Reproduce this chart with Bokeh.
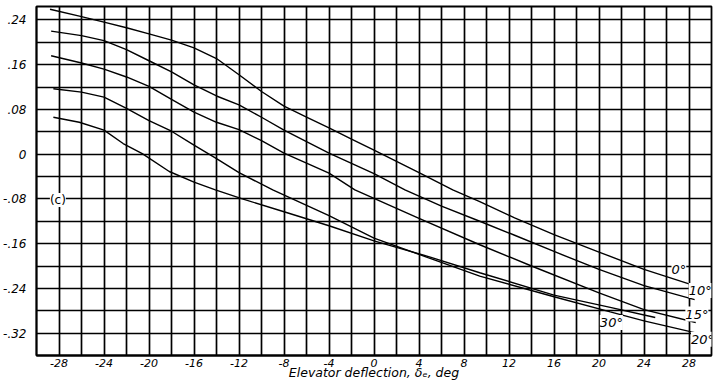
from bokeh.plotting import figure
from bokeh.models import FixedTicker, CustomJSTickFormatter, Range1d, Label
from bokeh.embed import file_html
from bokeh.resources import INLINE
from bokeh.core.properties import value

# ---- data ----
x_0 = [-28.8, -26.0, -24.0, -22.0, -20.0, -18.0, -16.0, -14.0, -12.0, -10.0, -8.0, -6.0, -4.0, -2.0, 0.0, 4.0, 7.0, 9.4, 12.5, 16.0, 20.0, 24.0, 28.0]
y_0 = [0.259, 0.246, 0.236, 0.226, 0.215, 0.204, 0.190, 0.171, 0.142, 0.112, 0.086, 0.066, 0.047, 0.027, 0.007, -0.033, -0.064, -0.085, -0.114, -0.144, -0.175, -0.206, -0.232]

x_10 = [-28.7, -26.0, -24.0, -22.0, -20.0, -18.0, -16.0, -14.0, -12.0, -10.0, -8.0, -4.0, 0.0, 2.75, 6.0, 9.4, 12.5, 16.0, 20.0, 24.0, 28.5]
y_10 = [0.220, 0.212, 0.203, 0.187, 0.167, 0.147, 0.124, 0.104, 0.088, 0.066, 0.043, 0.002, -0.035, -0.064, -0.093, -0.120, -0.145, -0.174, -0.206, -0.235, -0.260]

x_15 = [-28.7, -26.0, -24.0, -22.0, -20.0, -18.0, -16.0, -14.0, -12.0, -10.0, -8.0, -4.0, -1.7, 4.0, 9.4, 14.0, 20.0, 24.0, 28.6]
y_15 = [0.176, 0.163, 0.152, 0.138, 0.121, 0.098, 0.075, 0.057, 0.044, 0.024, 0.002, -0.034, -0.064, -0.115, -0.162, -0.200, -0.248, -0.278, -0.301]

x_20 = [-28.5, -26.0, -24.0, -22.0, -20.0, -18.0, -16.0, -14.0, -12.0, -9.0, -4.0, 0.0, 4.8, 9.4, 16.0, 21.0, 24.0, 28.5]
y_20 = [0.117, 0.111, 0.102, 0.082, 0.060, 0.041, 0.016, -0.008, -0.033, -0.064, -0.110, -0.150, -0.185, -0.218, -0.255, -0.282, -0.298, -0.319]

x_30 = [-28.5, -26.2, -24.0, -22.3, -20.6, -18.2, -16.0, -14.1, -11.7, -8.0, -4.0, 0.0, 5.0, 9.4, 16.0, 21.0, 25.0]
y_30 = [0.066, 0.057, 0.043, 0.019, 0.001, -0.031, -0.050, -0.064, -0.080, -0.103, -0.128, -0.155, -0.184, -0.212, -0.252, -0.274, -0.292]

curve_labels = ["0°", "10°", "15°", "20°", "30°"]
label_x = [27.1, 29.0, 28.7, 29.2, 21.1]
label_y = [-0.206, -0.244, -0.286, -0.331, -0.301]

x_ticks = [-28, -24, -20, -16, -12, -8, -4, 0, 4, 8, 12, 16, 20, 24, 28]
x_grid = list(range(-30, 31, 2))
y_ticks = [0.24, 0.16, 0.08, 0.0, -0.08, -0.16, -0.24, -0.32]
y_grid = [round(-0.36 + 0.04 * i, 2) for i in range(16)]

x_title = "Elevator deflection, δₑ, deg"
panel_tag = "(c)"

FONT = "DejaVu Sans"

p = figure(width=718, height=382, output_backend="svg", toolbar_location=None,
           x_range=Range1d(-30, 30), y_range=Range1d(-0.36, 0.264),
           min_border_left=34, min_border_right=7, min_border_top=6, min_border_bottom=27)
p.background_fill_color = "white"
p.border_fill_color = "white"
p.outline_line_color = "black"
p.outline_line_width = 1.8

for ax in (p.xaxis[0], p.yaxis[0]):
    ax.major_tick_line_color = None
    ax.minor_tick_line_color = None
    ax.axis_line_color = "black"
    ax.axis_line_width = 1.8
    ax.major_label_text_font = FONT
    ax.major_label_text_font_style = "italic"
    ax.major_label_text_color = "black"

p.yaxis.major_label_text_font_size = "12px"
p.xaxis.major_label_text_font_size = "11px"
p.xaxis.ticker = FixedTicker(ticks=x_ticks)
p.yaxis.ticker = FixedTicker(ticks=y_ticks)
p.xaxis.major_label_standoff = -3
p.yaxis.major_label_standoff = 4
p.yaxis.formatter = CustomJSTickFormatter(code="""
    if (Math.abs(tick) < 1e-9) return "0";
    return tick.toFixed(2).replace("0.", ".");
""")
p.xaxis.formatter = CustomJSTickFormatter(code="return tick.toFixed(0);")
p.xaxis.axis_label = x_title
p.xaxis.axis_label_text_font = FONT
p.xaxis.axis_label_text_font_style = "italic"
p.xaxis.axis_label_text_font_size = "12.5px"
p.xaxis.axis_label_standoff = -5
p.xaxis.axis_label_text_color = "black"

p.xgrid.ticker = FixedTicker(ticks=x_grid)
p.ygrid.ticker = FixedTicker(ticks=y_grid)
for g in (p.xgrid[0], p.ygrid[0]):
    g.grid_line_color = "black"
    g.grid_line_width = 1.7
    g.grid_line_alpha = 1.0

for xs, ys in [(x_0, y_0), (x_10, y_10), (x_15, y_15), (x_20, y_20), (x_30, y_30)]:
    p.line(xs, ys, line_color="black", line_width=1.4)

p.text(x=label_x, y=label_y, text=curve_labels, text_font=value(FONT),
       text_font_style="italic", text_font_size="13px", text_align="center",
       text_baseline="middle", text_color="black",
       background_fill_color="white")

p.add_layout(Label(x=-28.1, y=-0.082, text=panel_tag, text_font=FONT, text_font_size="12px",
                   text_align="center", text_baseline="middle", background_fill_color="white",
                   text_color="black"))

open("out.html", "w").write(file_html(p, INLINE))
